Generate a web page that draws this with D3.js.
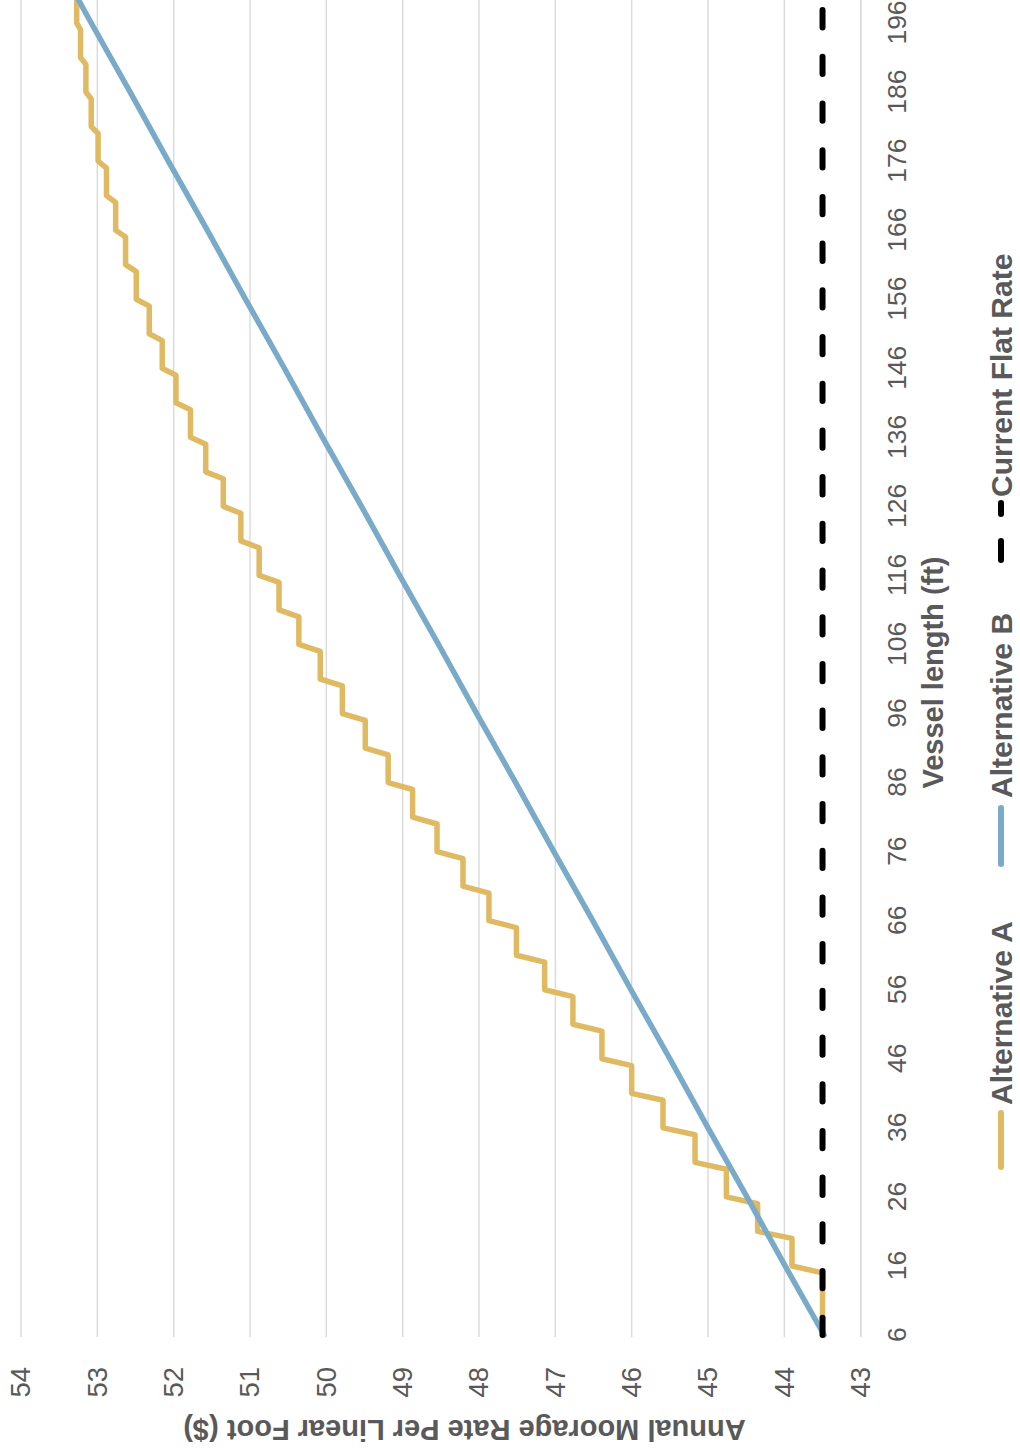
<!DOCTYPE html>
<html>
<head>
<meta charset="utf-8">
<script src="https://cdn.jsdelivr.net/npm/d3@7"></script>
<style>
  html, body { margin: 0; padding: 0; background: #fff; }
  svg { display: block; }
  text { font-family: "Liberation Sans", Arial, Helvetica, sans-serif; }
</style>
</head>
<body>
<div id="chart"></div>
<script>
// ---- Data ----
const xTickLabels = [6, 16, 26, 36, 46, 56, 66, 76, 86, 96, 106, 116, 126, 136, 146, 156, 166, 176, 186, 196];
const yTickLabels = [43, 44, 45, 46, 47, 48, 49, 50, 51, 52, 53, 54];

// Alternative A: stepped rate, constant within each vessel-length band
const altABandFrom = [6, 16, 21, 26, 31, 36, 41, 46, 51, 56, 61, 66, 71, 76, 81, 86, 91, 96, 101, 106,
                      111, 116, 121, 126, 131, 136, 141, 146, 151, 156, 161, 166, 171, 176, 181, 186, 191, 196];
const altABandTo   = [15, 20, 25, 30, 35, 40, 45, 50, 55, 60, 65, 70, 75, 80, 85, 90, 95, 100, 105, 110,
                      115, 120, 125, 130, 135, 140, 145, 150, 155, 160, 165, 170, 175, 180, 185, 190, 195, 200];
const altAValues   = [43.50, 43.90, 44.35, 44.76, 45.17, 45.59, 46.00, 46.39, 46.77, 47.14,
                      47.51, 47.87, 48.21, 48.55, 48.87, 49.19, 49.49, 49.79, 50.08, 50.36,
                      50.62, 50.88, 51.12, 51.35, 51.58, 51.78, 51.97, 52.15, 52.32, 52.49,
                      52.63, 52.76, 52.88, 52.99, 53.08, 53.15, 53.22, 53.27];

// Alternative B: linear rate
const altBLengths = [6, 16, 26, 36, 46, 56, 66, 76, 86, 96, 106, 116, 126, 136, 146, 156, 166, 176, 186, 196, 200];
const altBValues  = [43.48, 43.99, 44.49, 45.00, 45.50, 46.01, 46.51, 47.02, 47.52, 48.03, 48.53,
                     49.04, 49.54, 50.05, 50.55, 51.06, 51.56, 52.07, 52.57, 53.08, 53.28];

// Current flat rate
const flatLengths = [6, 200];
const flatValues  = [43.5, 43.5];

const seriesNames  = ["Alternative A", "Alternative B", "Current Flat Rate"];
const seriesColors = ["#e0b963", "#79aac9", "#000000"];

// ---- Layout (chart drawn landscape, then rotated -90deg) ----
const PAGE_W = 1020, PAGE_H = 1455;

const svg = d3.select("#chart").append("svg")
  .attr("width", PAGE_W).attr("height", PAGE_H);

const g = svg.append("g")
  .attr("transform", `translate(0,${PAGE_H}) rotate(-90)`);

const x = d3.scaleLinear().domain([6, 196]).range([120, 1432]);
const y = d3.scaleLinear().domain([43, 54]).range([860.7, 21]);
const plotLeft = 118, plotRight = 1480;

// gridlines
g.append("g").selectAll("line").data(yTickLabels).join("line")
  .attr("x1", plotLeft).attr("x2", plotRight)
  .attr("y1", d => y(d)).attr("y2", d => y(d))
  .attr("stroke", "#d9d9d9").attr("stroke-width", 1.4);

// y axis
const yAxis = g.append("g").attr("transform", `translate(${plotLeft},0)`)
  .call(d3.axisLeft(y).tickValues(yTickLabels).tickSize(0).tickPadding(30).tickFormat(d3.format("d")));
yAxis.select(".domain").remove();
yAxis.selectAll("text").attr("font-size", 27.5).attr("fill", "#595959")
  .style("font-family", "'Liberation Sans', Arial, sans-serif");

// x axis
const xAxis = g.append("g").attr("transform", `translate(0,${y(43)})`)
  .call(d3.axisBottom(x).tickValues(xTickLabels).tickSize(0).tickPadding(26).tickFormat(d3.format("d")));
xAxis.select(".domain").attr("stroke", "#d9d9d9").attr("stroke-width", 1.4)
  .attr("d", `M${plotLeft},0H${plotRight}`);
xAxis.selectAll("text").attr("font-size", 26.5).attr("fill", "#595959")
  .style("font-family", "'Liberation Sans', Arial, sans-serif");

// axis titles
g.append("text")
  .attr("transform", `translate(35,464.5) rotate(-90)`)
  .attr("text-anchor", "middle").attr("font-size", 29).attr("font-weight", "bold")
  .attr("fill", "#595959")
  .text("Annual Moorage Rate Per Linear Foot ($)");

g.append("text")
  .attr("x", 782.5).attr("y", 943)
  .attr("text-anchor", "middle").attr("font-size", 29).attr("font-weight", "bold")
  .attr("fill", "#595959")
  .text("Vessel length (ft)");

// ---- series ----
const line = d3.line().x(d => x(d[0])).y(d => y(d[1]));

const altAPoints = [];
altABandFrom.forEach((f, i) => {
  altAPoints.push([f, altAValues[i]]);
  if (altABandTo[i] !== f) altAPoints.push([altABandTo[i], altAValues[i]]);
});
const altBPoints = altBLengths.map((l, i) => [l, altBValues[i]]);
const flatPoints = flatLengths.map((l, i) => [l, flatValues[i]]);

g.append("path").datum(altAPoints)
  .attr("d", line).attr("fill", "none")
  .attr("stroke", seriesColors[0]).attr("stroke-width", 5.5)
  .attr("stroke-linejoin", "round").attr("stroke-linecap", "round");

g.append("path").datum(altBPoints)
  .attr("d", line).attr("fill", "none")
  .attr("stroke", seriesColors[1]).attr("stroke-width", 5.5)
  .attr("stroke-linejoin", "round").attr("stroke-linecap", "round");

g.append("path").datum(flatPoints)
  .attr("d", line).attr("fill", "none")
  .attr("stroke", seriesColors[2]).attr("stroke-width", 6)
  .attr("stroke-dasharray", "17.3,29.4")
  .attr("stroke-linecap", "round");

// ---- legend ----
const legendItems = [
  { name: seriesNames[0], color: seriesColors[0], x1: 288, x2: 342, tx: 350, dash: null },
  { name: seriesNames[1], color: seriesColors[1], x1: 591, x2: 647, tx: 657, dash: null },
  { name: seriesNames[2], color: seriesColors[2], x1: 895, x2: 952, tx: 958, dash: "19,27" }
];
const legend = g.append("g");
legendItems.forEach(it => {
  const ln = legend.append("line")
    .attr("x1", it.x1).attr("x2", it.x2).attr("y1", 1001).attr("y2", 1001)
    .attr("stroke", it.color).attr("stroke-width", 6).attr("stroke-linecap", "round");
  if (it.dash) ln.attr("stroke-dasharray", it.dash);
  legend.append("text")
    .attr("x", it.tx).attr("y", 1011.5)
    .attr("font-size", 30).attr("font-weight", "bold").attr("fill", "#595959")
    .text(it.name);
});
</script>
</body>
</html>
